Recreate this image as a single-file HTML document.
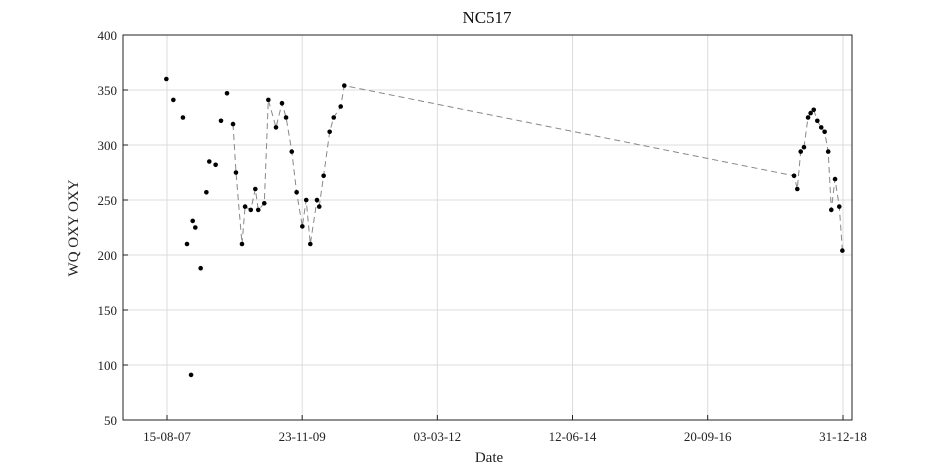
<!DOCTYPE html>
<html><head><meta charset="utf-8"><style>
body{margin:0;background:#fff;}
svg{display:block;font-family:"Liberation Serif",serif;}
</style></head><body>
<svg id="chart" width="945" height="472" viewBox="0 0 945 472"></svg>
<script>
const dates=["2007-08-11","2007-09-23","2007-11-21","2007-12-16","2008-01-10","2008-01-20","2008-02-05","2008-03-09","2008-04-13","2008-05-01","2008-06-09","2008-07-12","2008-08-18","2008-09-24","2008-10-12","2008-11-18","2008-12-07","2009-01-11","2009-02-08","2009-02-26","2009-04-04","2009-04-29","2009-06-15","2009-07-22","2009-08-16","2009-09-20","2009-10-20","2009-11-24","2009-12-18","2010-01-12","2010-02-22","2010-03-08","2010-04-04","2010-05-11","2010-06-05","2010-07-18","2010-08-09","2018-03-05","2018-03-25","2018-04-15","2018-05-05","2018-05-30","2018-06-15","2018-07-04","2018-07-26","2018-08-19","2018-09-09","2018-10-01","2018-10-20","2018-11-12","2018-12-08","2018-12-27"];
const values=[360,341,325,210,91,231,225,188,257,285,282,322,347,319,275,210,244,241,260,241,247,341,316,338,325,294,257,226,250,210,250,244,272,312,325,335,354,272,260,294,298,325,329,332,322,316,312,294,241,269,244,204];
const lineStart=13;
const xTickDates=["2007-08-15","2009-11-23","2012-03-03","2014-06-12","2016-09-20","2018-12-31"];
const xTickLabels=["15-08-07","23-11-09","03-03-12","12-06-14","20-09-16","31-12-18"];
const yTicks=[50,100,150,200,250,300,350,400];
const NS="http://www.w3.org/2000/svg";
const svg=document.getElementById('chart');
const L=123,R=852,T=35,B=420;
const t0=Date.UTC(2007,7,15);
function days(s){const p=s.split('-');return (Date.UTC(+p[0],+p[1]-1,+p[2])-t0)/86400000;}
function xs(s){return 167+days(s)*0.16266;}
function ys(v){return B-(v-50)*(B-T)/350;}
function el(tag,attrs,parent){const e=document.createElementNS(NS,tag);for(const k in attrs)e.setAttribute(k,attrs[k]);(parent||svg).appendChild(e);return e;}
// grid
yTicks.forEach(v=>{const g=el('line',{x1:L,x2:R,y1:ys(v),y2:ys(v),stroke:'#dcdcdc','stroke-width':1});


const t=el('text',{x:L-6,y:ys(v)+5,'text-anchor':'end','font-size':13,fill:'#222'});t.textContent=v;


el('line',{x1:L,x2:L+5,y1:ys(v),y2:ys(v),stroke:'#222'});});
xTickDates.forEach((d,i)=>{const x=xs(d);const g=el('line',{x1:x,x2:x,y1:T,y2:B,stroke:'#dcdcdc','stroke-width':1});


el('line',{x1:x,x2:x,y1:B,y2:B-5,stroke:'#222'});
const t=el('text',{x:x,y:B+21,'text-anchor':'middle','font-size':13,fill:'#222'});t.textContent=xTickLabels[i];

});
const box=el('rect',{x:L,y:T,width:R-L,height:B-T,fill:'none',stroke:'#222','stroke-width':1});


// line
let pts=[];for(let i=lineStart;i<dates.length;i++)pts.push(xs(dates[i]).toFixed(1)+','+ys(values[i]).toFixed(1));
const pl=el('polyline',{points:pts.join(' '),fill:'none',stroke:'#888','stroke-width':1,'stroke-dasharray':'6,4'});


dates.forEach((d,i)=>{const c=el('circle',{cx:xs(d),cy:ys(values[i]),r:2.3,fill:'#000'});

});
const title=el('text',{x:487,y:23,'text-anchor':'middle','font-size':17,fill:'#111'});title.textContent='NC517';


const xl=el('text',{x:489,y:462,'text-anchor':'middle','font-size':15,fill:'#222'});xl.textContent='Date';


const yl=el('text',{x:0,y:0,'text-anchor':'middle','font-size':15,fill:'#222',transform:'translate(78,228) rotate(-90)'});yl.textContent='WQ OXY OXY';


</script>
</body></html>
